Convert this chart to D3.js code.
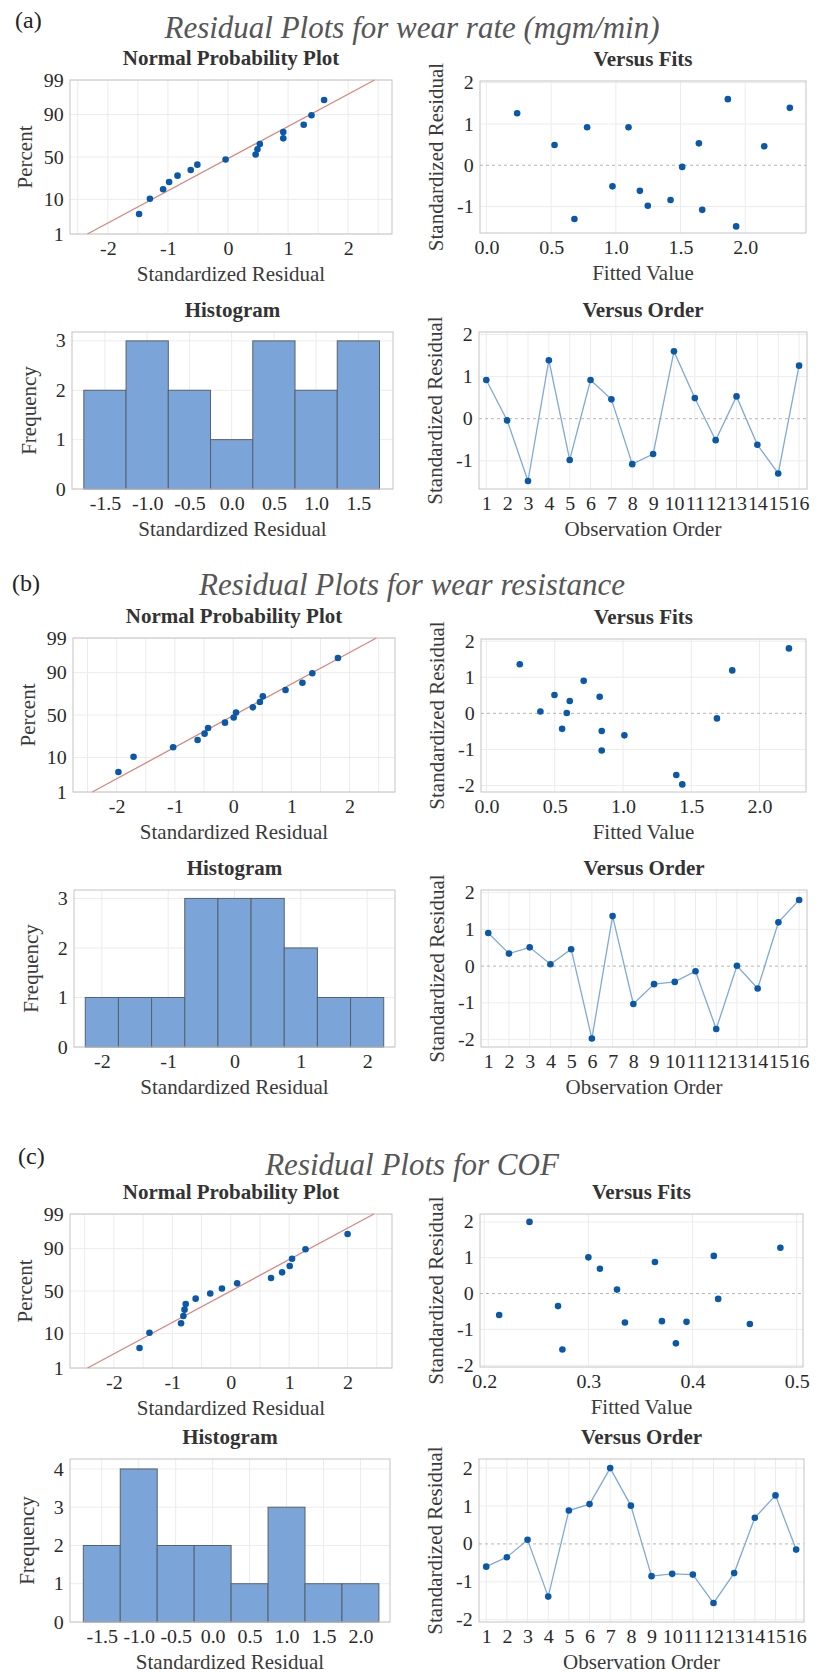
<!DOCTYPE html>
<html><head><meta charset="utf-8">
<script src="https://cdn.jsdelivr.net/npm/d3@7"></script>
<style>body{margin:0;background:#fff}svg{display:block}svg text{font-family:'Liberation Serif','Times New Roman',Times,serif}</style>
</head><body>
<svg id="c" width="824" height="1673"></svg>
<script>
// ---------- DATA ----------
const observationOrder = [1,2,3,4,5,6,7,8,9,10,11,12,13,14,15,16];

// (a) wear rate
const residA  = [0.92,-0.04,-1.48,1.39,-0.98,0.92,0.46,-1.08,-0.84,1.60,0.49,-0.51,0.53,-0.62,-1.30,1.26];
const fittedA = [0.778,1.513,1.930,2.345,1.247,1.098,2.147,1.668,1.423,1.866,0.526,0.974,1.642,1.186,0.680,0.237];
const histCentersA = [-1.5,-1.0,-0.5,0.0,0.5,1.0,1.5];
const histCountsA  = [2,3,2,1,3,2,3];
const nppLineA = [-2.34, 2.44];   // residual at 1% and 99%

// (b) wear resistance
const residB  = [0.90,0.34,0.51,0.05,0.46,-1.97,1.36,-1.03,-0.49,-0.43,-0.14,-1.71,0.01,-0.61,1.19,1.80];
const fittedB = [0.712,0.610,0.498,0.395,0.829,1.434,0.244,0.844,0.844,0.554,1.688,1.390,0.588,1.010,1.800,2.215];
const histCentersB = [-2.0,-1.5,-1.0,-0.5,0.0,0.5,1.0,1.5,2.0];
const histCountsB  = [1,1,1,3,3,3,2,1,1];
const nppLineB = [-2.42, 2.46];

// (c) COF
const residC  = [-0.60,-0.35,0.11,-1.39,0.88,1.05,2.00,1.01,-0.85,-0.79,-0.81,-1.56,-0.77,0.69,1.28,-0.15];
const fittedC = [0.2144,0.2709,0.3275,0.3840,0.3639,0.4204,0.2435,0.3000,0.4550,0.3942,0.3351,0.2751,0.3706,0.3111,0.4843,0.4246];
const histCentersC = [-1.5,-1.0,-0.5,0.0,0.5,1.0,1.5,2.0];
const histCountsC  = [2,4,2,2,1,3,1,1];
const nppLineC = [-2.45, 2.45];

const histBinWidth = 0.5;
// plotting percent of the i-th ordered residual (median ranks)
const nppPercent = [4.27,10.37,16.46,22.56,28.66,34.76,40.85,46.95,53.05,59.15,65.24,71.34,77.44,83.54,89.63,95.73];

// tick labels
const nppYTicks = [1,10,50,90,99];
const nppXTicks = [-2,-1,0,1,2];
const fitTicksAB = [0.0,0.5,1.0,1.5,2.0];
const fitTicksC  = [0.2,0.3,0.4,0.5];
const residTicksA = [-1,0,1,2];
const residTicksBC = [-2,-1,0,1,2];
const histXTicksA = [-1.5,-1.0,-0.5,0.0,0.5,1.0,1.5];
const histXTicksB = [-2,-1,0,1,2];
const histXTicksC = [-1.5,-1.0,-0.5,0.0,0.5,1.0,1.5,2.0];
const histYTicksAB = [0,1,2,3];
const histYTicksC  = [0,1,2,3,4];

const titles = [
  {tag:"(a)", text:"Residual Plots for wear rate (mgm/min)"},
  {tag:"(b)", text:"Residual Plots for wear resistance"},
  {tag:"(c)", text:"Residual Plots for COF"}
];

// ---------- STYLE ----------
const FONT = "'Liberation Serif','Times New Roman',Times,serif";
const SX = 1.05;
const C_PT = "#0a58a8", C_LINE = "#d8877f", C_VO = "#7fa9d8", C_BAR = "#7ba5d8", C_BAR_S = "#56606c";
const C_GRID = "#ececec", C_FRAME = "#c4c4c4";

const svg = d3.select("#c");

function probit(p){
  const a=[-3.969683028665376e+01,2.209460984245205e+02,-2.759285104469687e+02,1.383577518672690e+02,-3.066479806614716e+01,2.506628277459239e+00];
  const b=[-5.447609879822406e+01,1.615858368580409e+02,-1.556989798598866e+02,6.680131188771972e+01,-1.328068155288572e+01];
  const c=[-7.784894002430293e-03,-3.223964580411365e-01,-2.400758277161838e+00,-2.549732539343734e+00,4.374664141464968e+00,2.938163982698783e+00];
  const d=[7.784695709041462e-03,3.224671290700398e-01,2.445134137142996e+00,3.754408661907416e+00];
  const pl=0.02425, ph=1-pl; let q,r;
  if(p<pl){q=Math.sqrt(-2*Math.log(p));return (((((c[0]*q+c[1])*q+c[2])*q+c[3])*q+c[4])*q+c[5])/((((d[0]*q+d[1])*q+d[2])*q+d[3])*q+1);}
  if(p>ph){q=Math.sqrt(-2*Math.log(1-p));return -(((((c[0]*q+c[1])*q+c[2])*q+c[3])*q+c[4])*q+c[5])/((((d[0]*q+d[1])*q+d[2])*q+d[3])*q+1);}
  q=p-0.5;r=q*q;
  return (((((a[0]*r+a[1])*r+a[2])*r+a[3])*r+a[4])*r+a[5])*q/(((((b[0]*r+b[1])*r+b[2])*r+b[3])*r+b[4])*r+1);
}

function txt(g,x,y,s,o={}){
  return g.append("text")
    .attr("transform",`translate(${x},${y}) rotate(${o.rot||0}) scale(${o.sx??SX},1)`)
    .attr("text-anchor",o.anchor||"middle")
    .style("font-family",FONT).attr("font-size",o.size||20)
    .attr("font-weight",o.weight||"normal").attr("font-style",o.style||"normal")
    .attr("fill",o.fill||"#333").text(s);
}
function styleAxis(sel){
  sel.attr("font-family",FONT).attr("font-size",19);
  sel.select(".domain").remove();
  sel.selectAll(".tick line").remove();
  sel.selectAll("text").style("font-family",FONT).attr("fill","#2a2a2a").attr("transform",`scale(${SX},1)`);
}
function frame(g,b){
  g.append("rect").attr("x",b.L).attr("y",b.T).attr("width",b.R-b.L).attr("height",b.B-b.T)
   .attr("fill","none").attr("stroke",C_FRAME).attr("stroke-width",1);
}
function vgrid(g,b,x,vals){
  g.selectAll(null).data(vals).join("line")
   .attr("x1",d=>x(d)).attr("x2",d=>x(d)).attr("y1",b.T).attr("y2",b.B)
   .attr("stroke",C_GRID).attr("stroke-width",1);
}
function hgrid(g,b,y,vals){
  g.selectAll(null).data(vals).join("line")
   .attr("y1",d=>y(d)).attr("y2",d=>y(d)).attr("x1",b.L).attr("x2",b.R)
   .attr("stroke",C_GRID).attr("stroke-width",1);
}
// hyphen-minus like the reference
const f1 = d => d3.format(".1f")(d).replace("\u2212","-");
const f0 = d => d3.format("d")(d).replace("\u2212","-");

function axes(g,b,x,y,xt,yt,xf,yf){
  g.append("g").attr("transform",`translate(0,${b.B})`)
   .call(d3.axisBottom(x).tickValues(xt).tickFormat(xf).tickSize(0).tickPadding(8)).call(styleAxis);
  g.append("g").attr("transform",`translate(${b.L},0)`)
   .call(d3.axisLeft(y).tickValues(yt).tickFormat(yf).tickSize(0).tickPadding(6)).call(styleAxis);
}
function panelText(g,b,title,xlab,ylab,yoff){
  const cx=(b.L+b.R)/2, cy=(b.T+b.B)/2;
  txt(g,cx,b.T-15,title,{size:20,weight:"bold",fill:"#333"});
  txt(g,cx,b.B+47,xlab,{size:20,fill:"#3a3a3a"});
  txt(g,b.L-yoff,cy,ylab,{size:20,rot:-90,fill:"#3a3a3a"});
}
function zeroLine(g,b,y){
  g.append("line").attr("x1",b.L).attr("x2",b.R).attr("y1",y(0)).attr("y2",y(0))
   .attr("stroke","#b5b5b5").attr("stroke-dasharray","3,3").attr("stroke-width",1);
}
const R_PT = 3.3;

function drawNPP(b,resid,lineEnds,xDom){
  const g=svg.append("g");
  const x=d3.scaleLinear().domain(xDom).range([b.L,b.R]);
  const yq=d3.scaleLinear().domain([probit(0.01),probit(0.99)]).range([b.B,b.T]);
  const y=p=>yq(probit(p/100));
  vgrid(g,b,x,d3.range(Math.ceil(xDom[0]*2)/2,xDom[1],0.5));
  hgrid(g,b,y,nppYTicks);
  frame(g,b);
  g.append("line").attr("x1",x(lineEnds[0])).attr("y1",y(1)).attr("x2",x(lineEnds[1])).attr("y2",y(99))
   .attr("stroke",C_LINE).attr("stroke-width",1.3);
  const sorted=resid.slice().sort((a,c)=>a-c);
  g.selectAll(null).data(sorted).join("circle")
   .attr("cx",d=>x(d)).attr("cy",(d,i)=>y(nppPercent[i])).attr("r",R_PT).attr("fill",C_PT);
  g.append("g").attr("transform",`translate(0,${b.B})`)
   .call(d3.axisBottom(x).tickValues(nppXTicks).tickFormat(f0).tickSize(0).tickPadding(8)).call(styleAxis);
  g.append("g").attr("transform",`translate(${b.L},0)`)
   .call(d3.axisLeft(yq).tickValues(nppYTicks.map(p=>probit(p/100))).tickFormat((d,i)=>String(nppYTicks[i])).tickSize(0).tickPadding(6)).call(styleAxis);
  panelText(g,b,"Normal Probability Plot","Standardized Residual","Percent",38);
}
function drawVF(b,fitted,resid,xDom,yDom,xt,yt){
  const g=svg.append("g");
  const x=d3.scaleLinear().domain(xDom).range([b.L,b.R]);
  const y=d3.scaleLinear().domain(yDom).range([b.B,b.T]);
  vgrid(g,b,x,xt); hgrid(g,b,y,yt.filter(v=>v!==0));
  frame(g,b); zeroLine(g,b,y);
  g.selectAll(null).data(resid).join("circle")
   .attr("cx",(d,i)=>x(fitted[i])).attr("cy",d=>y(d)).attr("r",R_PT).attr("fill",C_PT);
  axes(g,b,x,y,xt,yt,f1,f0);
  panelText(g,b,"Versus Fits","Fitted Value","Standardized Residual",37);
}
function drawHist(b,centers,counts,xDom,yDom,xt,yt,xf){
  const g=svg.append("g");
  const x=d3.scaleLinear().domain(xDom).range([b.L,b.R]);
  const y=d3.scaleLinear().domain(yDom).range([b.B,b.T]);
  vgrid(g,b,x,xt); hgrid(g,b,y,yt);
  g.selectAll(null).data(counts).join("rect")
   .attr("x",(d,i)=>x(centers[i]-histBinWidth/2)).attr("width",(d,i)=>x(centers[i]+histBinWidth/2)-x(centers[i]-histBinWidth/2))
   .attr("y",d=>y(d)).attr("height",d=>y(0)-y(d))
   .attr("fill",C_BAR).attr("stroke",C_BAR_S).attr("stroke-width",1);
  frame(g,b);
  axes(g,b,x,y,xt,yt,xf,f0);
  panelText(g,b,"Histogram","Standardized Residual","Frequency",36);
}
function drawVO(b,resid,yDom,yt){
  const g=svg.append("g");
  const x=d3.scaleLinear().domain([0.65,16.38]).range([b.L,b.R]);
  const y=d3.scaleLinear().domain(yDom).range([b.B,b.T]);
  vgrid(g,b,x,observationOrder); hgrid(g,b,y,yt.filter(v=>v!==0));
  frame(g,b); zeroLine(g,b,y);
  const line=d3.line().x((d,i)=>x(observationOrder[i])).y(d=>y(d));
  g.append("path").datum(resid).attr("d",line).attr("fill","none").attr("stroke",C_VO).attr("stroke-width",1.3);
  g.selectAll(null).data(resid).join("circle")
   .attr("cx",(d,i)=>x(observationOrder[i])).attr("cy",d=>y(d)).attr("r",R_PT).attr("fill",C_PT);
  axes(g,b,x,y,observationOrder,yt,f0,f0);
  panelText(g,b,"Versus Order","Observation Order","Standardized Residual",37);
}

// ---------- LAYOUT ----------
const tg=svg.append("g");
const titleY=[38,595,1175], tagPos=[[15,28],[12,591],[18,1164]];
titles.forEach((t,i)=>{
  txt(tg,412,titleY[i],t.text,{size:31,style:"italic",fill:"#565656",sx:1});
  txt(tg,tagPos[i][0],tagPos[i][1],t.tag,{size:24,anchor:"start",fill:"#222",sx:1});
});

drawNPP({L:70,R:392,T:80,B:234},residA,nppLineA,[-2.63,2.73]);
drawVF({L:480,R:806,T:81,B:233},fittedA,residA,[-0.05,2.47],[-1.64,2.04],fitTicksAB,residTicksA);
drawHist({L:72,R:393,T:332,B:489},histCentersA,histCountsA,[-1.89,1.91],[0,3.18],histXTicksA,histYTicksAB,f1);
drawVO({L:479,R:807,T:332,B:489},residA,[-1.67,2.06],residTicksA);

drawNPP({L:73,R:395,T:638,B:792},residB,nppLineB,[-2.75,2.78]);
drawVF({L:481,R:806,T:639,B:792},fittedB,residB,[-0.04,2.34],[-2.18,2.06],fitTicksAB,residTicksBC);
drawHist({L:74,R:395,T:890,B:1047},histCentersB,histCountsB,[-2.42,2.42],[0,3.17],histXTicksB,histYTicksAB,f0);
drawVO({L:481,R:807,T:890,B:1047},residB,[-2.2,2.07],residTicksBC);

drawNPP({L:70,R:392,T:1214,B:1368},residC,nppLineC,[-2.75,2.76]);
drawVF({L:480,R:803,T:1214,B:1367},fittedC,residC,[0.196,0.506],[-2.05,2.22],fitTicksC,residTicksBC);
drawHist({L:70,R:390,T:1459,B:1622},histCentersC,histCountsC,[-1.93,2.40],[0,4.26],histXTicksC,histYTicksC,f1);
drawVO({L:479,R:804,T:1459,B:1622},residC,[-2.06,2.24],residTicksBC);
</script>
</body></html>
